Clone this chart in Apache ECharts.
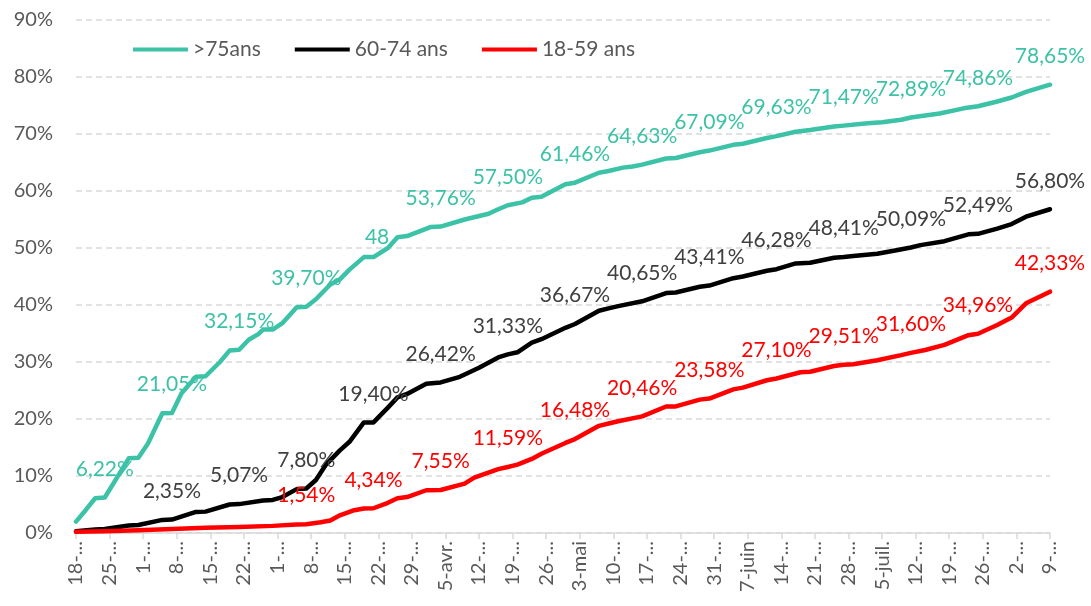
<!DOCTYPE html>
<html>
<head>
<meta charset="utf-8">
<script src="https://cdn.jsdelivr.net/npm/echarts@6/dist/echarts.min.js"></script>
<style>
html,body{margin:0;padding:0;background:#fff;}
#chart{width:1091px;height:606px;}
</style>
</head>
<body>
<div id="chart"></div>
<script>
// x tick labels (one every 7 days, from 18 Jan)
const tickLabels = ["18-...","25-...","1-...","8-...","15-...","22-...","1-...","8-...","15-...","22-...","29-...","5-avr.","12-...","19-...","26-...","3-mai","10-...","17-...","24-...","31-...","7-juin","14-...","21-...","28-...","5-juil.","12-...","19-...","26-...","2-...","9-..."];

const seriesNames = [">75ans", "60-74 ans", "18-59 ans"];

// day index (0 = 18 Jan) and value (%)
const tealDays = [0,2,4,6,11,13,15,18,20,22,25,27,30,32,34,36,38,39,41,43,46,48,50,53,55,57,60,62,65,67,69,74,76,81,86,88,90,93,95,97,102,104,109,111,114,116,118,123,125,130,132,137,139,144,146,150,153,158,160,165,168,172,174,180,185,188,192,195,198,203];
const tealVals = [2.0,4.0,6.1,6.22,13.1,13.2,15.7,21.0,21.05,24.5,27.4,27.5,30.0,32.0,32.15,33.9,34.9,35.7,35.7,36.8,39.6,39.70,41.0,43.6,44.5,46.2,48.4,48.4,50.0,51.9,52.1,53.7,53.76,55.0,56.0,56.8,57.50,58.0,58.8,59.0,61.2,61.46,63.2,63.5,64.1,64.3,64.63,65.7,65.8,66.8,67.09,68.1,68.3,69.3,69.63,70.4,70.7,71.3,71.47,71.9,72.05,72.5,72.89,73.6,74.5,74.86,75.7,76.4,77.4,78.65];

const blackDays = [0,4,6,11,13,18,20,25,27,32,34,39,41,43,46,48,50,52,55,57,60,62,65,67,69,73,76,80,84,88,90,92,95,97,102,104,109,111,113,118,123,125,130,132,137,139,144,146,150,153,158,160,162,167,171,174,176,181,186,188,192,195,198,203];
const blackVals = [0.3,0.6,0.7,1.3,1.4,2.3,2.35,3.7,3.75,5.0,5.07,5.7,5.8,6.3,7.7,7.80,9.3,11.9,14.5,16.0,19.4,19.40,22.0,23.8,24.4,26.2,26.42,27.4,29.0,30.8,31.33,31.7,33.4,34.0,36.0,36.67,39.0,39.4,39.8,40.65,42.1,42.2,43.2,43.41,44.7,45.0,46.0,46.28,47.3,47.4,48.3,48.41,48.6,49.0,49.6,50.09,50.5,51.2,52.4,52.49,53.4,54.2,55.5,56.80];

const redDays = [0,6,13,20,27,34,41,46,48,51,53,55,58,60,62,65,67,69,73,76,81,83,88,90,92,95,97,102,104,109,111,113,118,123,125,130,132,137,139,144,146,151,153,158,160,162,167,172,174,177,181,186,188,192,195,198,203];
const redVals = [0.2,0.3,0.5,0.7,0.9,1.05,1.25,1.5,1.54,1.9,2.2,3.1,4.0,4.3,4.34,5.3,6.1,6.3,7.5,7.55,8.65,9.7,11.2,11.59,12.0,13.0,13.9,15.8,16.48,18.8,19.2,19.6,20.46,22.2,22.2,23.4,23.58,25.2,25.5,26.8,27.10,28.2,28.3,29.3,29.51,29.6,30.3,31.2,31.60,32.1,33.0,34.7,34.96,36.5,37.8,40.3,42.33];

// days that carry a data label
const tealLabelDays = [6,20,34,48,62,76,90,104,118,132,146,160,174,188,203];
const blackLabelDays = [20,34,48,62,76,90,104,118,132,146,160,174,188,203];
const redLabelDays = [48,62,76,90,104,118,132,146,160,174,188,203];
// truncated label text as shown in the original
const tealLabelOverride = {62: "48,"};

const colors = ["#3CC2A6", "#000000", "#FF0000"];
const labelColors = ["#3CC2A6", "#404040", "#FF0000"];
const FONT = "Lato";

function fmt(v){ return v.toFixed(2).replace('.', ',') + '%'; }

function buildData(days, vals, labelDays, override){
  return days.map((d, i) => {
    const item = {value: [d, vals[i]]};
    if (labelDays.indexOf(d) >= 0) {
      item.label = {show: true};
      if (override && override[d] !== undefined) {
        const txt = override[d];
        item.label.formatter = () => txt;
        item.label.distance = 9;
        item.label.offset = [6, 0];
      }
    }
    return item;
  });
}

function makeSeries(idx, days, vals, labelDays, override){
  return {
    name: seriesNames[idx],
    type: 'line',
    data: buildData(days, vals, labelDays, override),
    symbol: 'circle',
    symbolSize: 0.01,
    showSymbol: true,
    lineStyle: {color: colors[idx], width: 4.5, cap: 'round', join: 'round'},
    itemStyle: {color: colors[idx]},
    label: {
      show: false,
      position: 'top',
      distance: 18,
      fontFamily: FONT,
      fontSize: 21,
      color: labelColors[idx],
      formatter: p => fmt(p.value[1])
    },
    emphasis: {disabled: true},
    z: 2 + idx
  };
}

const chart = echarts.init(document.getElementById('chart'), null, {renderer: 'canvas'});
chart.setOption({
  animation: false,
  backgroundColor: '#ffffff',
  grid: {left: 76, right: 41, top: 20, bottom: 73, containLabel: false},
  legend: {
    left: 133, top: 39, padding: 0,
    itemWidth: 55, itemHeight: 4, itemGap: 34,
    textStyle: {fontFamily: FONT, fontSize: 21, color: '#595959'},
    data: seriesNames.map(n => ({name: n, icon: 'rect'}))
  },
  xAxis: {
    type: 'value', min: 0, max: 203, interval: 7,
    axisLine: {show: true, lineStyle: {color: '#d9d9d9', width: 1.5}},
    axisTick: {show: true, length: 6, lineStyle: {color: '#d9d9d9', width: 1.5}},
    splitLine: {show: false},
    axisLabel: {
      rotate: 90, margin: 8, fontFamily: FONT, fontSize: 20, color: '#595959',
      showMinLabel: true, showMaxLabel: true,
      formatter: v => tickLabels[Math.round(v / 7)] || ''
    }
  },
  yAxis: {
    type: 'value', min: 0, max: 90, interval: 10,
    axisLine: {show: false}, axisTick: {show: false},
    axisLabel: {formatter: '{value}%', fontFamily: FONT, fontSize: 20, color: '#595959', margin: 23},
    splitLine: {show: true, lineStyle: {color: '#d9d9d9', width: 1.5, type: [6, 4]}}
  },
  series: [
    makeSeries(0, tealDays, tealVals, tealLabelDays, tealLabelOverride),
    makeSeries(1, blackDays, blackVals, blackLabelDays, null),
    makeSeries(2, redDays, redVals, redLabelDays, null)
  ]
});
</script>
</body>
</html>
